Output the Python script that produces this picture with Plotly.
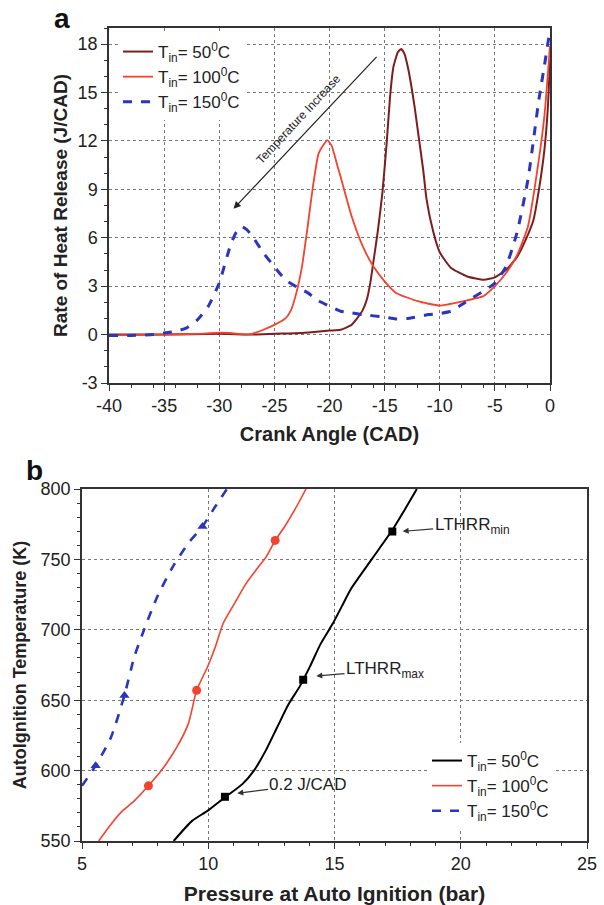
import plotly.graph_objects as go

# ---------------- Panel a data ----------------
cad_50 = [-40, -35, -30, -27, -25, -22.5, -20, -19, -18, -17.5, -17, -16.6, -16.3, -16.0, -15.6, -15.2,
          -14.8, -14.5, -14.2, -13.8, -13.5, -13.2, -12.9, -12.6, -12.3, -12.0, -11.5, -11.2, -10.6,
          -10.0, -9.0, -7.5, -6.0, -5.0, -4.0, -3.0, -2.0, -1.5, -1.0, -0.5, -0.2, 0]
rohr_50 = [0.0, 0.0, 0.05, 0.0, 0.05, 0.1, 0.25, 0.3, 0.6, 1.0, 1.5, 2.2, 3.2, 4.6, 6.5, 8.8,
           12.0, 14.8, 16.6, 17.5, 17.7, 17.4, 16.6, 15.5, 14.2, 12.7, 10.2, 8.4, 6.4,
           5.1, 4.15, 3.6, 3.4, 3.55, 4.0, 4.8, 6.2, 7.1, 9.0, 11.5, 14.0, 17.0]

cad_100 = [-40, -35, -32, -30, -29, -27.5, -27, -26, -25, -24, -23.5, -23, -22.5, -22, -21.5, -21,
           -20.6, -20.2, -19.8, -19.3, -19, -18, -17, -16, -15, -14, -12, -10, -8, -6, -5, -4, -3,
           -2, -1, -0.5, 0]
rohr_100 = [-0.05, 0.0, 0.05, 0.12, 0.1, 0.0, 0.05, 0.3, 0.6, 1.0, 1.5, 2.6, 4.2, 6.6, 9.2, 11.2,
            11.7, 12.05, 11.7, 10.5, 9.8, 7.35, 5.5, 4.2, 3.3, 2.6, 2.07, 1.8, 2.05, 2.4, 3.0, 3.8, 4.9,
            6.7, 10.9, 13.6, 17.9]

cad_150 = [-40, -38, -36, -35, -34, -33, -32, -31, -30, -29, -28.5, -28, -27.5, -27, -26, -25, -24,
           -23, -22, -21, -20, -19, -18, -17, -15, -14, -13, -11, -10, -9, -8, -7, -6, -5, -4, -3,
           -2, -1, -0.5, 0]
rohr_150 = [-0.05, -0.05, 0.0, 0.1, 0.2, 0.4, 0.9, 1.75, 3.2, 5.5, 6.3, 6.7, 6.5, 6.1, 5.07, 4.2, 3.4,
            2.96, 2.6, 2.1, 1.76, 1.45, 1.35, 1.24, 1.08, 0.97, 0.99, 1.24, 1.3, 1.45, 1.86, 2.3, 2.7,
            3.2, 4.2, 6.3, 9.6, 14.6, 16.7, 18.9]

xa_ticks = [-40, -35, -30, -25, -20, -15, -10, -5, 0]
xa_labels = ["-40", "-35", "-30", "-25", "-20", "-15", "-10", "-5", "0"]
ya_ticks = [-3, 0, 3, 6, 9, 12, 15, 18]
ya_labels = ["-3", "0", "3", "6", "9", "12", "15", "18"]

# ---------------- Panel b data ----------------
p_50 = [8.63, 9.36, 9.97, 10.66, 11.35, 11.81, 12.27, 12.73, 13.19, 13.63, 14.03, 14.45, 14.95, 15.3,
        15.65, 16.47, 17.27, 17.78, 18.26]
T_50 = [550, 564.3, 571.4, 581, 590.4, 600, 614, 630.8, 647.4, 660, 674, 690, 705, 717,
        729, 750, 770.3, 785.3, 800]
p_100 = [5.66, 6.15, 6.6, 7.07, 7.63, 8.14, 8.75, 9.21, 9.54, 9.97, 10.28, 10.59, 11.04, 11.5, 11.96,
         12.3, 12.65, 13.03, 13.5, 13.87]
T_100 = [550, 561.9, 571.4, 578.5, 589.2, 600, 616.5, 633.2, 657, 673.6, 687.8, 704.5, 718.7, 733, 744,
         752, 763.4, 773.4, 787.6, 800]
p_150 = [5.0, 5.54, 6.15, 6.68, 7.07, 7.45, 7.98, 8.6, 9.21, 9.77, 10.28, 10.74]
T_150 = [589.2, 603.5, 623.7, 653.4, 680.7, 699.7, 723.5, 744.9, 761.5, 773.4, 787.6, 800]

mk_p_50 = [10.66, 13.76, 17.29]
mk_T_50 = [581.4, 664.5, 769.8]
mk_p_100 = [7.63, 9.54, 12.65]
mk_T_100 = [589.2, 657, 763.5]
mk_p_150 = [5.54, 6.68, 9.77]
mk_T_150 = [603.5, 653.4, 773.4]

legend_names = ["T<sub>in</sub>= 50<sup>0</sup>C", "T<sub>in</sub>= 100<sup>0</sup>C",
                "T<sub>in</sub>= 150<sup>0</sup>C"]

DARK = "#7d1d1d"
RED = "#f5412e"
BLUE = "#2a35c0"
FONT = "Arial, Liberation Sans, sans-serif"

fig = go.Figure()

# Panel a traces
fig.add_trace(go.Scatter(x=cad_50, y=rohr_50, mode="lines", name=legend_names[0],
                         line=dict(color=DARK, width=2, shape="spline", smoothing=0.5),
                         xaxis="x", yaxis="y", legend="legend"))
fig.add_trace(go.Scatter(x=cad_100, y=rohr_100, mode="lines", name=legend_names[1],
                         line=dict(color=RED, width=1.8, shape="spline", smoothing=0.5),
                         xaxis="x", yaxis="y", legend="legend"))
fig.add_trace(go.Scatter(x=cad_150, y=rohr_150, mode="lines", name=legend_names[2],
                         line=dict(color=BLUE, width=3, dash="dash", shape="spline", smoothing=0.5),
                         xaxis="x", yaxis="y", legend="legend"))

# Panel b traces
fig.add_trace(go.Scatter(x=p_50, y=T_50, mode="lines", name=legend_names[0],
                         line=dict(color="black", width=2, shape="spline", smoothing=0.6),
                         xaxis="x2", yaxis="y2", legend="legend2"))
fig.add_trace(go.Scatter(x=p_100, y=T_100, mode="lines", name=legend_names[1],
                         line=dict(color=RED, width=1.6, shape="spline", smoothing=0.6),
                         xaxis="x2", yaxis="y2", legend="legend2"))
fig.add_trace(go.Scatter(x=p_150, y=T_150, mode="lines", name=legend_names[2],
                         line=dict(color=BLUE, width=2.6, dash="dash", shape="spline", smoothing=0.6),
                         xaxis="x2", yaxis="y2", legend="legend2"))
fig.add_trace(go.Scatter(x=mk_p_50, y=mk_T_50, mode="markers", showlegend=False,
                         marker=dict(symbol="square", size=8, color="black"),
                         xaxis="x2", yaxis="y2"))
fig.add_trace(go.Scatter(x=mk_p_100, y=mk_T_100, mode="markers", showlegend=False,
                         marker=dict(symbol="circle", size=9, color=RED),
                         xaxis="x2", yaxis="y2"))
fig.add_trace(go.Scatter(x=mk_p_150, y=mk_T_150, mode="markers", showlegend=False,
                         marker=dict(symbol="triangle-up", size=9, color=BLUE),
                         xaxis="x2", yaxis="y2"))

W, H = 604, 905
def px(v):
    return v / W
def py(v):
    return 1 - v / H

axis_common = dict(
    showline=True, linecolor="#333", linewidth=1.5, mirror=True,
    ticks="outside", ticklen=6, tickwidth=1.2, tickcolor="#333",
    showgrid=True, gridcolor="#777", griddash="dot", gridwidth=1,
    zeroline=False, automargin=False,
    tickfont=dict(size=18, color="#222", family=FONT),
    minor=dict(ticks="outside", ticklen=3, tickcolor="#333", showgrid=False),
)

fig.update_layout(
    width=W, height=H,
    margin=dict(l=0, r=0, t=0, b=0),
    paper_bgcolor="white", plot_bgcolor="white",
    font=dict(family=FONT, color="#222"),
    xaxis=dict(domain=[px(109), px(550)], range=[-40, 0], tickvals=xa_ticks, ticktext=xa_labels,
               anchor="y",
               title=dict(text="<b>Crank Angle (CAD)</b>", font=dict(size=20), standoff=12),
               **axis_common),
    yaxis=dict(domain=[py(383), py(28)], range=[-3, 19], tickvals=ya_ticks, ticktext=ya_labels,
               anchor="x",
               title=dict(text="<b>Rate of Heat Release (J/CAD)</b>", font=dict(size=19), standoff=5),
               **axis_common),
    xaxis2=dict(domain=[px(82), px(587)], range=[5, 25], dtick=5, anchor="y2",
                title=dict(text="<b>Pressure at Auto Ignition (bar)</b>", font=dict(size=21), standoff=14),
                **axis_common),
    yaxis2=dict(domain=[py(841), py(489)], range=[550, 800], dtick=50, anchor="x2",
                title=dict(text="<b>AutoIgnition Temperature (K)</b>", font=dict(size=18), standoff=9),
                **axis_common),
    legend=dict(x=px(118), y=py(34), xanchor="left", yanchor="top",
                bgcolor="rgba(255,255,255,1)", font=dict(size=17, family=FONT, color="#222"),
                tracegroupgap=0, itemwidth=30),
    legend2=dict(x=px(427), y=py(743), xanchor="left", yanchor="top",
                 bgcolor="rgba(255,255,255,1)", font=dict(size=17, family=FONT, color="#222"),
                 tracegroupgap=0, itemwidth=30),
)

annotations = [
    dict(text="<b>a</b>", x=px(62), y=py(18), xref="paper", yref="paper", showarrow=False,
         xanchor="center", yanchor="middle", font=dict(size=28, family=FONT, color="#111")),
    dict(text="<b>b</b>", x=px(34), y=py(470), xref="paper", yref="paper", showarrow=False,
         xanchor="center", yanchor="middle", font=dict(size=28, family=FONT, color="#111")),
    # Temperature increase arrow
    dict(text="", x=-28.7, y=7.8, ax=-15.6, ay=17.3, xref="x", yref="y", axref="x", ayref="y",
         showarrow=True, arrowhead=2, arrowsize=1.2, arrowwidth=1.2, arrowcolor="#222"),
    dict(text="Temperature Increase", x=-22.8, y=13.35, xref="x", yref="y", showarrow=False,
         textangle=-47, font=dict(size=12, family=FONT, color="#222")),
    # Panel b annotations
    dict(text="0.2 J/CAD", x=11.07, y=583.7, ax=13.95, ay=590.4, xref="x2", yref="y2",
         axref="x2", ayref="y2", showarrow=True, arrowhead=2, arrowsize=1, arrowwidth=1.2,
         arrowcolor="#333", standoff=2, font=dict(size=17, family=FONT, color="#222")),
    dict(text="LTHRR<sub>max</sub>", x=14.2, y=667, ax=17.0, ay=671.5, xref="x2", yref="y2",
         axref="x2", ayref="y2", showarrow=True, arrowhead=2, arrowsize=1, arrowwidth=1.2,
         arrowcolor="#333", standoff=2, font=dict(size=17, family=FONT, color="#222")),
    dict(text="LTHRR<sub>min</sub>", x=17.62, y=769.8, ax=20.45, ay=774, xref="x2", yref="y2",
         axref="x2", ayref="y2", showarrow=True, arrowhead=2, arrowsize=1, arrowwidth=1.2,
         arrowcolor="#333", standoff=2, font=dict(size=17, family=FONT, color="#222")),
]
fig.update_layout(annotations=annotations)

fig.write_html("out.html", config={"displayModeBar": False},
               post_script="document.body.style.margin='0px';")
